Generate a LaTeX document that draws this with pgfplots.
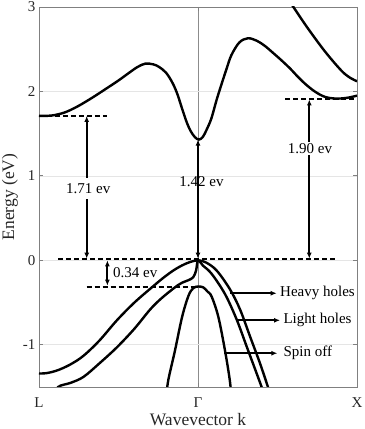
\documentclass[border=0pt]{standalone}
\usepackage{fontspec}
\setmainfont{Liberation Serif}
\usepackage{pgfplots}
\pgfplotsset{compat=1.18}
\usetikzlibrary{arrows.meta}
\begin{document}
\begin{tikzpicture}
\begin{axis}[
  name=ax,
  scale only axis, width=318bp, height=380bp,
  xmin=-1, xmax=1, ymin=-1.5, ymax=3,
  xtick={-1,0,1}, xticklabels={L,Γ,X},
  ytick={-1,0,1,2,3}, yticklabels={-1,0,1,2,3},
  xmajorgrids, ymajorgrids,
  major x grid style={black!45, line width=0.7bp},
  major y grid style={black!10, line width=0.7bp},
  axis line style={black!50, line width=0.9bp},
  tick align=inside, major tick length=4bp,
  every tick/.style={black!50, line width=0.9bp},
  tick label style={font=\fontsize{15bp}{18bp}\selectfont, text=black!85},
  xticklabel style={anchor=base, yshift=-20bp},
  label style={font=\fontsize{17.5bp}{21bp}\selectfont, text=black!85},
  xlabel={Wavevector k}, ylabel={Energy (eV)},
  xlabel style={at={(axis description cs:0.5,-0.1)}, anchor=base},
  ylabel style={at={(axis description cs:-0.0912,0.5)}, anchor=center},
  clip=true,
]
% dashed reference levels
\addplot[black, line width=2bp, dash pattern=on 5bp off 3bp] coordinates {(-1,1.71) (-0.57,1.71)};
\addplot[black, line width=2bp, dash pattern=on 5bp off 3bp] coordinates {(0.55,1.905) (1,1.905)};
\addplot[black, line width=2bp, dash pattern=on 5bp off 3bp] coordinates {(-0.88,0.02) (0.88,0.02)};
\addplot[black, line width=2bp, dash pattern=on 5bp off 3bp] coordinates {(-0.70,-0.31) (0,-0.31)};
% gap arrows
\addplot[black, line width=2.2bp, {Latex[length=6bp,width=5bp]}-{Latex[length=6bp,width=5bp]}] coordinates {(-0.70,0.02) (-0.70,1.71)};
\addplot[black, line width=2.2bp, {Latex[length=6bp,width=5bp]}-{Latex[length=6bp,width=5bp]}] coordinates {(0,0.02) (0,1.43)};
\addplot[black, line width=2.2bp, {Latex[length=6bp,width=5bp]}-{Latex[length=6bp,width=5bp]}] coordinates {(0.70,0.02) (0.70,1.905)};
\addplot[black, line width=2.2bp, {Latex[length=6bp,width=5bp]}-{Latex[length=6bp,width=5bp]}] coordinates {(-0.57,0.0) (-0.57,-0.30)};
% label arrows
\addplot[black, line width=2.2bp, -{Latex[length=6bp,width=5bp]}] coordinates {(0.20,-0.39) (0.495,-0.39)};
\addplot[black, line width=2.2bp, -{Latex[length=6bp,width=5bp]}] coordinates {(0.25,-0.71) (0.516,-0.71)};
\addplot[black, line width=2.2bp, -{Latex[length=6bp,width=5bp]}] coordinates {(0.165,-1.10) (0.499,-1.10)};
% conduction band (lower)
\addplot[black, line width=2.4bp, smooth, tension=0.55] coordinates {
(-1,1.71) (-0.92,1.715) (-0.84,1.75) (-0.76,1.82) (-0.67,1.92) (-0.58,2.03)
(-0.5,2.13) (-0.434,2.22) (-0.38,2.29) (-0.33,2.33) (-0.28,2.32) (-0.245,2.29) (-0.2,2.22)
(-0.16,2.10) (-0.13,1.97) (-0.099,1.79) (-0.07,1.63) (-0.046,1.53) (-0.02,1.46) (0.005,1.43)
(0.03,1.46) (0.055,1.55) (0.084,1.68) (0.117,1.90) (0.147,2.08) (0.18,2.27) (0.21,2.43)
(0.26,2.58) (0.314,2.63) (0.37,2.60) (0.42,2.54) (0.47,2.46) (0.524,2.37) (0.58,2.27)
(0.63,2.17) (0.68,2.08) (0.734,2.00) (0.78,1.95) (0.82,1.925) (0.88,1.915) (0.94,1.925) (1,1.95)};
% conduction band (upper)
\addplot[black, line width=2.4bp, smooth, tension=0.55] coordinates {
(0.565,3.1) (0.6,3.0) (0.69,2.75) (0.80,2.47) (0.90,2.25) (0.95,2.17) (1.0,2.12)};
% heavy holes
\addplot[black, line width=2.4bp, smooth, tension=0.55] coordinates {
(-1,-1.34) (-0.95,-1.335) (-0.88,-1.30) (-0.80,-1.23) (-0.72,-1.13) (-0.62,-0.95) (-0.51,-0.71)
(-0.40,-0.50) (-0.29,-0.32) (-0.22,-0.21) (-0.155,-0.12) (-0.10,-0.06) (-0.05,-0.02) (0,0)
(0.05,-0.025) (0.117,-0.12) (0.2,-0.34) (0.264,-0.58) (0.327,-0.90) (0.39,-1.22) (0.44,-1.5) (0.46,-1.62)};
% light holes
\addplot[black, line width=2.4bp, smooth, tension=0.55] coordinates {
(-0.90,-1.62) (-0.88,-1.5) (-0.80,-1.45) (-0.72,-1.38) (-0.62,-1.22) (-0.51,-1.03) (-0.40,-0.81)
(-0.30,-0.58) (-0.23,-0.45) (-0.145,-0.32) (-0.10,-0.265) (-0.06,-0.235) (-0.03,-0.20) (-0.012,-0.12) (0,0)
(0.03,-0.06) (0.086,-0.16) (0.17,-0.40) (0.243,-0.70) (0.306,-1.02) (0.369,-1.34) (0.40,-1.5) (0.42,-1.62)};
% spin off
\addplot[black, line width=2.4bp, smooth, tension=0.55] coordinates {
(-0.20,-1.62) (-0.187,-1.42) (-0.145,-1.07) (-0.10,-0.67) (-0.06,-0.42) (-0.03,-0.33) (0,-0.31)
(0.033,-0.32) (0.06,-0.37) (0.086,-0.43) (0.128,-0.67) (0.17,-1.07) (0.20,-1.42) (0.21,-1.62)};
% labels
\node[fill=white, inner xsep=1bp, inner ysep=5bp, font=\fontsize{15bp}{18bp}\selectfont] at (axis cs:-0.69,0.85) {1.71 ev};
\node[inner sep=0pt, font=\fontsize{15bp}{18bp}\selectfont] at (axis cs:0.022,0.93) {1.42 ev};
\node[fill=white, inner xsep=1bp, inner ysep=1.5bp, font=\fontsize{15bp}{18bp}\selectfont] at (axis cs:0.704,1.32) {1.90 ev};
\node[anchor=west, inner sep=0pt, font=\fontsize{15bp}{18bp}\selectfont] at (axis cs:-0.535,-0.148) {0.34 ev};
\node[anchor=west, inner sep=0pt, font=\fontsize{15bp}{18bp}\selectfont] at (axis cs:0.516,-0.39) {Heavy holes};
\node[anchor=west, inner sep=0pt, font=\fontsize{15bp}{18bp}\selectfont] at (axis cs:0.537,-0.71) {Light holes};
\node[anchor=west, inner sep=0pt, font=\fontsize{15bp}{18bp}\selectfont] at (axis cs:0.537,-1.10) {Spin off};
\end{axis}
\pgfresetboundingbox
\path ([xshift=-39bp,yshift=-42bp]ax.south west) rectangle ([xshift=8bp,yshift=7bp]ax.north east);
\end{tikzpicture}
\end{document}
